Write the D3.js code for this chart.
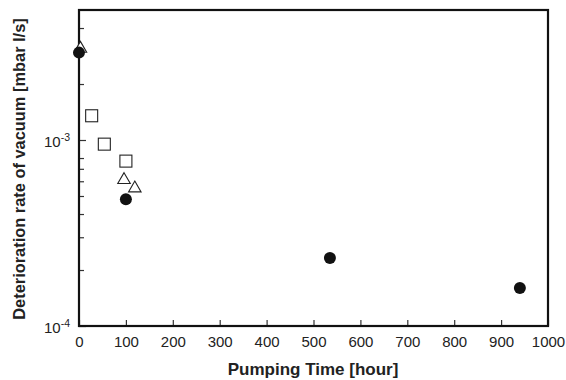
<!DOCTYPE html>
<html lang="en">
<head>
<meta charset="UTF-8">
<style>
    body{ margin:0; background:#fff; font-family:"Liberation Sans", Arial, sans-serif; }
    #chart{ width:566px; height:380px; display:block; }
</style>
<script src="https://d3js.org/d3.v7.min.js"></script>
</head>
<body>
<svg id="chart" width="566" height="380"></svg>
<script>
    // data
    var circleTime = [0, 100, 535, 940];
    var circleRate = [2.95e-3, 4.8e-4, 2.32e-4, 1.6e-4];
    var squareTime = [27, 54, 100];
    var squareRate = [1.35e-3, 9.5e-4, 7.7e-4];
    var triangleTime = [3, 96, 119];
    var triangleRate = [3.1e-3, 6.1e-4, 5.5e-4];
    var xTicks = [0, 100, 200, 300, 400, 500, 600, 700, 800, 900, 1000];
    var yMajor = [1e-4, 1e-3];
    var yMinor = [2e-4, 3e-4, 4e-4, 5e-4, 6e-4, 7e-4, 8e-4, 2e-3, 3e-3, 4e-3];

    var margin = {top: 10, right: 18, bottom: 54, left: 79},
        width = 566 - margin.left - margin.right,
        height = 380 - margin.top - margin.bottom;

    var svg = d3.select("#chart");
    var g = svg.append("g").attr("transform", "translate(" + margin.left + "," + margin.top + ")");

    var x = d3.scaleLinear().domain([0, 1000]).range([0, width]);
    var y = d3.scaleLog().domain([1e-4, 5e-3]).range([height, 0]);

    // x axis, ticks pointing inward
    var xAxis = g.append("g")
        .attr("transform", "translate(0," + height + ")")
        .call(d3.axisBottom(x).tickValues(xTicks).tickSize(-6).tickPadding(10).tickFormat(d3.format("d")));
    xAxis.select(".domain").remove();
    xAxis.selectAll("line").attr("stroke", "#333").attr("stroke-width", 1.2);
    xAxis.selectAll("text").attr("font-size", 15).attr("fill", "#222")
        .attr("font-family", "Liberation Sans, Arial, sans-serif");

    // y axis major
    var yAxis = g.append("g")
        .call(d3.axisLeft(y).tickValues(yMajor).tickSize(-7).tickFormat(""));
    yAxis.select(".domain").remove();
    yAxis.selectAll("line").attr("stroke", "#333").attr("stroke-width", 1.2);
    yAxis.selectAll(".tick").each(function(d) {
        var t = d3.select(this).append("text")
            .attr("x", -9).attr("dy", "0.45em")
            .attr("text-anchor", "end").attr("fill", "#222")
            .attr("font-family", "Liberation Sans, Arial, sans-serif")
            .attr("font-size", 15);
        t.append("tspan").text("10");
        t.append("tspan").attr("dy", "-0.55em").attr("font-size", 10.5).text(Math.round(Math.log10(d)));
    });

    var yMinorAxis = g.append("g")
        .call(d3.axisLeft(y).tickValues(yMinor).tickSize(-5).tickFormat(""));
    yMinorAxis.select(".domain").remove();
    yMinorAxis.selectAll("line").attr("stroke", "#333").attr("stroke-width", 1.2);

    // frame
    g.append("rect").attr("width", width).attr("height", height)
        .attr("fill", "none").attr("stroke", "#111").attr("stroke-width", 2.2);

    // markers
    g.selectAll(".sq").data(d3.range(squareTime.length)).enter().append("rect")
        .attr("x", function(i) { return x(squareTime[i]) - 6; })
        .attr("y", function(i) { return y(squareRate[i]) - 6; })
        .attr("width", 12).attr("height", 12)
        .attr("fill", "#fff").attr("stroke", "#222").attr("stroke-width", 1.1);

    var tri = d3.symbol().type(d3.symbolTriangle).size(68);
    g.selectAll(".tri").data(d3.range(triangleTime.length)).enter().append("path")
        .attr("d", tri)
        .attr("transform", function(i) { return "translate(" + x(triangleTime[i]) + "," + y(triangleRate[i]) + ")"; })
        .attr("fill", "#fff").attr("stroke", "#222").attr("stroke-width", 1.1);

    g.selectAll(".dot").data(d3.range(circleTime.length)).enter().append("circle")
        .attr("cx", function(i) { return x(circleTime[i]); })
        .attr("cy", function(i) { return y(circleRate[i]); })
        .attr("r", 6).attr("fill", "#111");

    // axis titles
    svg.append("text")
        .attr("x", 313).attr("y", 375)
        .attr("text-anchor", "middle").attr("font-weight", "bold").attr("font-size", 17)
        .attr("fill", "#222").text("Pumping Time [hour]");
    svg.append("text")
        .attr("transform", "translate(24.5,169) rotate(-90)")
        .attr("text-anchor", "middle").attr("font-weight", "bold").attr("font-size", 16.4)
        .attr("fill", "#222").text("Deterioration rate of vacuum [mbar l/s]");
</script>
</body>
</html>
